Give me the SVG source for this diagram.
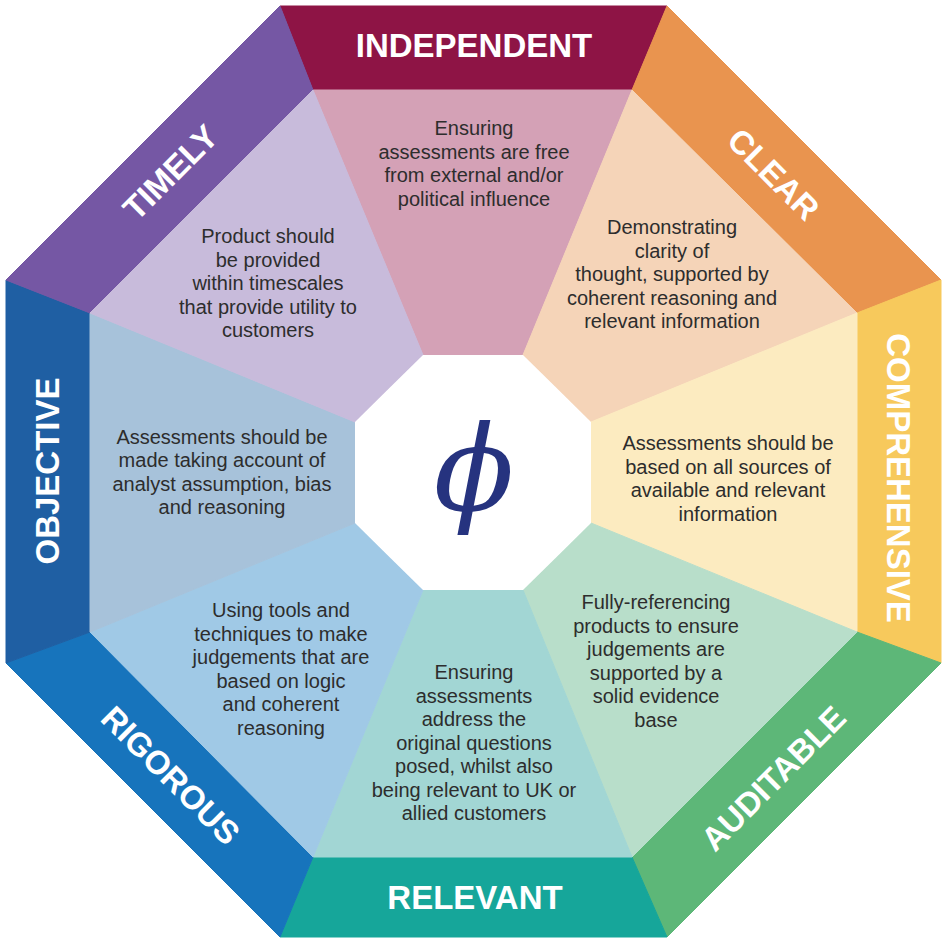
<svg xmlns="http://www.w3.org/2000/svg" width="944" height="940" viewBox="0 0 944 940">
<style>
.lbl{font-family:"Liberation Sans",Arial,sans-serif;font-weight:bold;font-size:33px;fill:#ffffff;text-anchor:middle}
.dsc{font-family:"Liberation Sans",Arial,sans-serif;font-size:20px;fill:#2d2d2d;text-anchor:middle}
.seg{stroke-width:1;stroke-linejoin:round}
</style>
<rect width="944" height="940" fill="#ffffff"/>
<g id="independent">
<polygon class="seg" points="280,6 667,6 632,90 313,90" fill="#8E1445" stroke="#8E1445"/>
<polygon class="seg" points="313,90 632,90 523,355 423,355" fill="#D4A1B6" stroke="#D4A1B6"/>
<text class="lbl" x="474" y="57">INDEPENDENT</text>
<text class="dsc" x="474"><tspan x="474" y="135">Ensuring</tspan><tspan x="474" y="158.5">assessments are free</tspan><tspan x="474" y="182">from external and/or</tspan><tspan x="474" y="205.5">political influence</tspan></text>
</g>
<g id="clear">
<polygon class="seg" points="667,6 941,280 857,313 632,90" fill="#E9944F" stroke="#E9944F"/>
<polygon class="seg" points="632,90 857,313 591,422 523,355" fill="#F5D4B8" stroke="#F5D4B8"/>
<text class="lbl" transform="translate(774,174) rotate(45)" x="0" y="12">CLEAR</text>
<text class="dsc"><tspan x="672" y="234">Demonstrating</tspan><tspan x="672" y="257.5">clarity of</tspan><tspan x="672" y="281">thought, supported by</tspan><tspan x="672" y="304.5">coherent reasoning and</tspan><tspan x="672" y="328">relevant information</tspan></text>
</g>
<g id="comprehensive">
<polygon class="seg" points="941,280 941,663 857,632 857,313" fill="#F7C95C" stroke="#F7C95C"/>
<polygon class="seg" points="857,313 857,632 591,523 591,422" fill="#FCEBC0" stroke="#FCEBC0"/>
<text class="lbl" transform="translate(899,478) rotate(90)" x="0" y="12">COMPREHENSIVE</text>
<text class="dsc"><tspan x="728" y="450">Assessments should be</tspan><tspan x="728" y="473.5">based on all sources of</tspan><tspan x="728" y="497">available and relevant</tspan><tspan x="728" y="520.5">information</tspan></text>
</g>
<g id="auditable">
<polygon class="seg" points="941,663 667,937 632,857 857,632" fill="#5DB778" stroke="#5DB778"/>
<polygon class="seg" points="857,632 632,857 523,590 591,523" fill="#B8DECA" stroke="#B8DECA"/>
<text class="lbl" transform="translate(773,778) rotate(-45)" x="0" y="12">AUDITABLE</text>
<text class="dsc"><tspan x="656" y="609">Fully-referencing</tspan><tspan x="656" y="632.5">products to ensure</tspan><tspan x="656" y="656">judgements are</tspan><tspan x="656" y="679.5">supported by a</tspan><tspan x="656" y="703">solid evidence</tspan><tspan x="656" y="726.5">base</tspan></text>
</g>
<g id="relevant">
<polygon class="seg" points="667,937 280,937 313,857 632,857" fill="#16A69A" stroke="#16A69A"/>
<polygon class="seg" points="632,857 313,857 423,590 523,590" fill="#A2D6D4" stroke="#A2D6D4"/>
<text class="lbl" x="475" y="909">RELEVANT</text>
<text class="dsc"><tspan x="474" y="679">Ensuring</tspan><tspan x="474" y="702.5">assessments</tspan><tspan x="474" y="726">address the</tspan><tspan x="474" y="749.5">original questions</tspan><tspan x="474" y="773">posed, whilst also</tspan><tspan x="474" y="796.5">being relevant to UK or</tspan><tspan x="474" y="820">allied customers</tspan></text>
</g>
<g id="rigorous">
<polygon class="seg" points="280,937 6,663 90,632 313,857" fill="#1774BC" stroke="#1774BC"/>
<polygon class="seg" points="313,857 90,632 355,523 423,590" fill="#A0C9E6" stroke="#A0C9E6"/>
<text class="lbl" transform="translate(171,775) rotate(45)" x="0" y="12">RIGOROUS</text>
<text class="dsc"><tspan x="281" y="617">Using tools and</tspan><tspan x="281" y="640.5">techniques to make</tspan><tspan x="281" y="664">judgements that are</tspan><tspan x="281" y="687.5">based on logic</tspan><tspan x="281" y="711">and coherent</tspan><tspan x="281" y="734.5">reasoning</tspan></text>
</g>
<g id="objective">
<polygon class="seg" points="6,663 6,280 90,313 90,632" fill="#1F5FA3" stroke="#1F5FA3"/>
<polygon class="seg" points="90,632 90,313 355,422 355,523" fill="#A7C2DA" stroke="#A7C2DA"/>
<text class="lbl" transform="translate(47,471) rotate(-90)" x="0" y="12">OBJECTIVE</text>
<text class="dsc"><tspan x="222" y="443.5">Assessments should be</tspan><tspan x="222" y="467">made taking account of</tspan><tspan x="222" y="490.5">analyst assumption, bias</tspan><tspan x="222" y="514">and reasoning</tspan></text>
</g>
<g id="timely">
<polygon class="seg" points="6,280 280,6 313,90 90,313" fill="#7557A4" stroke="#7557A4"/>
<polygon class="seg" points="90,313 313,90 423,355 355,422" fill="#C8BBDB" stroke="#C8BBDB"/>
<text class="lbl" transform="translate(170,172) rotate(-45)" x="0" y="12">TIMELY</text>
<text class="dsc"><tspan x="268" y="243">Product should</tspan><tspan x="268" y="266.5">be provided</tspan><tspan x="268" y="290">within timescales</tspan><tspan x="268" y="313.5">that provide utility to</tspan><tspan x="268" y="337">customers</tspan></text>
</g>
<g id="centre">
<polygon points="423,355 523,355 591,422 591,523 523,590 423,590 355,523 355,422" fill="#ffffff"/>
<text x="474" y="510" font-family="DejaVu Serif, serif" font-style="italic" font-size="118" fill="#26337F" text-anchor="middle">ϕ</text>
</g>
<g id="connectors"/>
</svg>
